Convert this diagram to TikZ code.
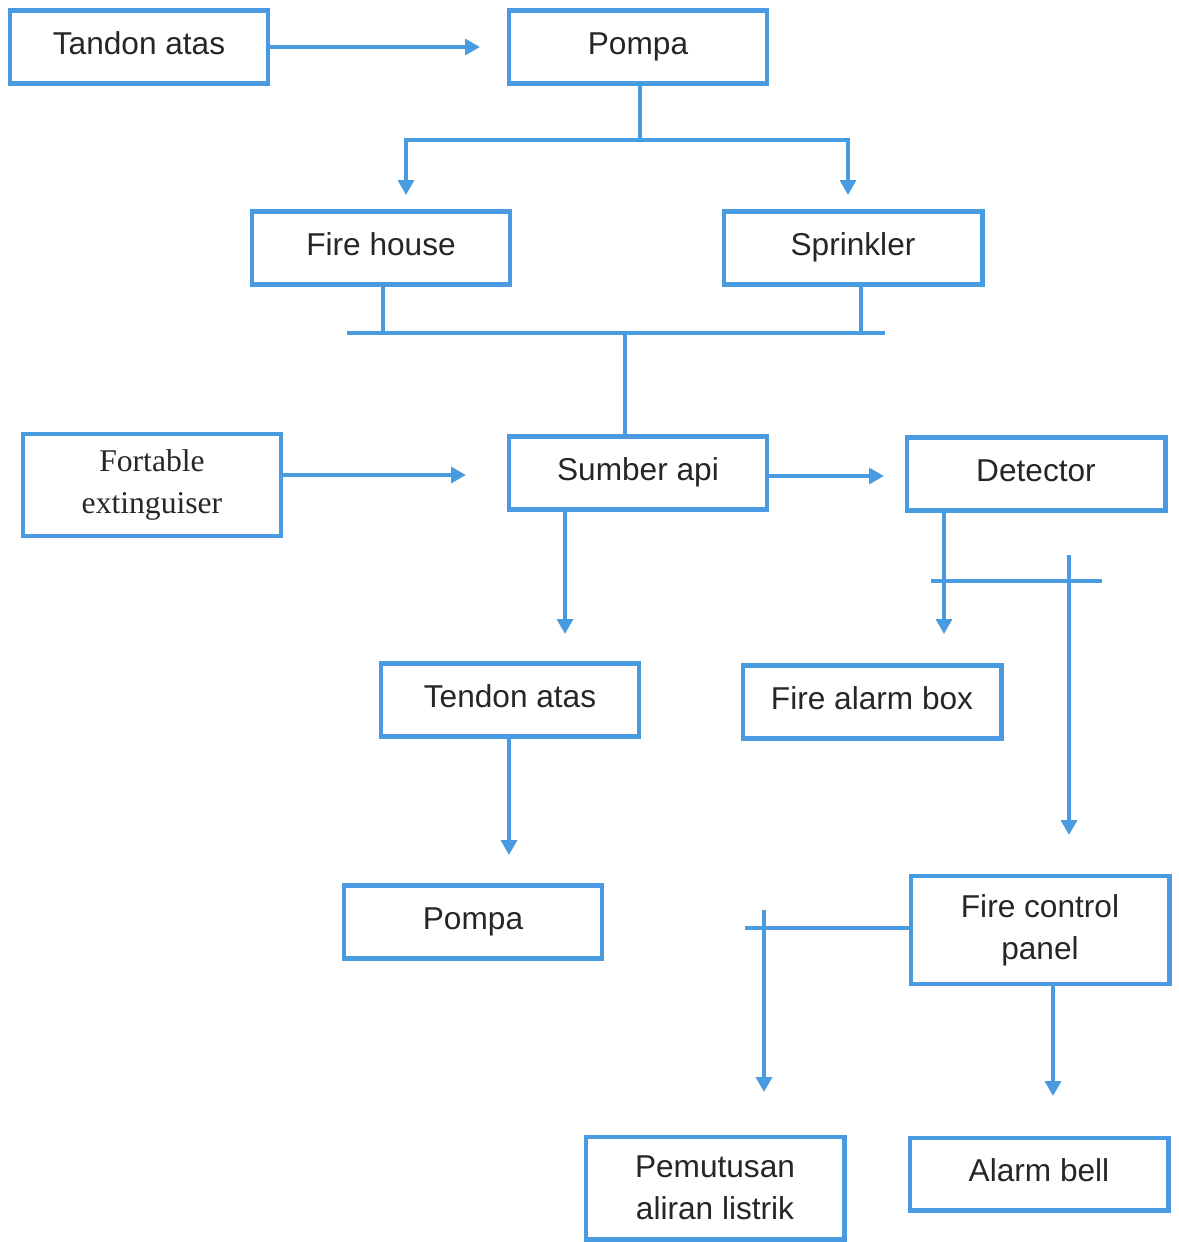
\documentclass[tikz,border=0pt]{standalone}
\usepackage{fontspec}
\setmainfont{Liberation Sans}
\newfontfamily\timesfam{Liberation Serif}
\usetikzlibrary{arrows.meta}
\definecolor{flowblue}{RGB}{72,155,224}
\definecolor{inkgray}{RGB}{38,38,38}
\tikzset{
  basebox/.style={draw=flowblue, line width=2.3pt, rectangle, minimum width=5.18cm,
    align=center, text=inkgray, font=\fontsize{18}{24}\selectfont, inner sep=2pt},
  box/.style={basebox, minimum height=1.46cm, text height=12.5pt, text depth=3.5pt},
  tallbox/.style={basebox, minimum height=2.1cm},
  link/.style={draw=flowblue, line width=2.1pt},
  arrow/.style={link, -{Triangle[length=8.5pt,width=9pt]}},
}
\begin{document}
\begin{tikzpicture}[x=0.02cm, y=-0.02cm]
\useasboundingbox (0,0) rectangle (1178,1242);

% boxes
\node[box] (t1) at (139,47) {Tandon atas};
\node[box] (p1) at (638,47) {Pompa};
\node[box] (fh) at (381,248) {Fire house};
\node[box] (sp) at (853,248) {Sprinkler};
\node[tallbox, font=\timesfam\fontsize{18}{24}\selectfont, minimum height=2.04cm] (fe) at (152,485) {Fortable\\extinguiser};
\node[box] (sa) at (638,473) {Sumber api};
\node[box] (de) at (1036,474) {Detector};
\node[box] (t2) at (510,700) {Tendon atas};
\node[box] (fab) at (872,702) {Fire alarm box};
\node[box] (p2) at (473,922) {Pompa};
\node[tallbox, minimum height=2.16cm] (fcp) at (1040,930) {Fire control\\panel};
\node[tallbox, minimum height=2.06cm] (pal) at (715,1188) {Pemutusan\\aliran listrik};
\node[box] (ab) at (1039,1174) {Alarm bell};

% top row
\coordinate (p1in) at (480,47);
\draw[arrow] (t1.east) -- (p1in);

% pump splits to fire house and sprinkler
\coordinate (split) at (640,140);
\coordinate (fhin) at (406,195);
\coordinate (spin) at (848,195);
\draw[link] (split |- p1.south) -- (split);
\draw[arrow] (split) -| (fhin);
\draw[arrow] (split) -| (spin);

% collector bar down to the fire source
\coordinate (busL) at (347,333);
\coordinate (busR) at (885,333);
\coordinate (busM) at (625,333);
\coordinate (fhx) at (383,333);
\coordinate (spx) at (861,333);
\draw[link] (busL) -- (busR);
\draw[link] (fhx |- fh.south) -- (fhx);
\draw[link] (spx |- sp.south) -- (spx);
\draw[link] (busM) -- (busM |- sa.north);

% middle row
\coordinate (fein) at (466,475);
\draw[arrow] (fein -| fe.east) -- (fein);
\coordinate (dein) at (884,476);
\draw[arrow] (dein -| sa.east) -- (dein);

% fire source to tank and pump
\coordinate (t2in) at (565,634);
\draw[arrow] (t2in |- sa.south) -- (t2in);
\coordinate (p2in) at (509,855);
\draw[arrow] (p2in |- t2.south) -- (p2in);

% detector branches
\coordinate (fabin) at (944,634);
\draw[arrow] (fabin |- de.south) -- (fabin);
\coordinate (crossL) at (931,581);
\coordinate (crossR) at (1102,581);
\draw[link] (crossL) -- (crossR);
\coordinate (fcptop) at (1069,555);
\coordinate (fcpin) at (1069,835);
\draw[arrow] (fcptop) -- (fcpin);

% control panel outputs
\coordinate (cutL) at (745,928);
\draw[link] (cutL) -- (cutL -| fcp.west);
\coordinate (cuttop) at (764,910);
\coordinate (palin) at (764,1092);
\draw[arrow] (cuttop) -- (palin);
\coordinate (abin) at (1053,1096);
\draw[arrow] (abin |- fcp.south) -- (abin);
\end{tikzpicture}
\end{document}
